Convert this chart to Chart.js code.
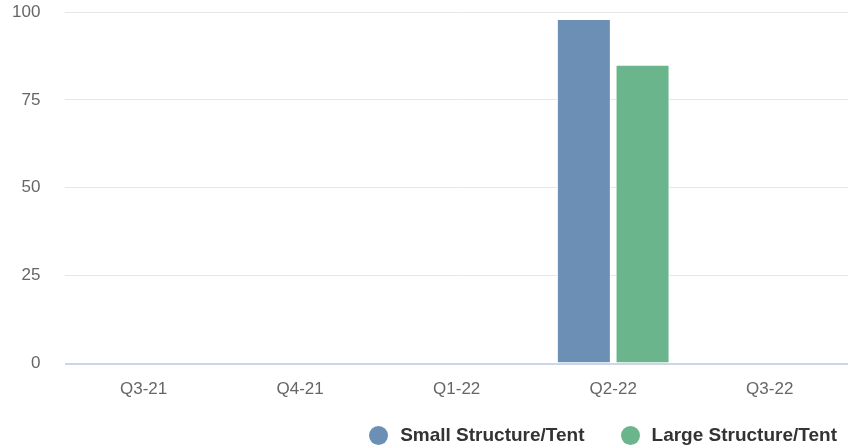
<!DOCTYPE html>
<html>
<head>
<meta charset="utf-8">
<script src="https://cdn.jsdelivr.net/npm/chart.js@4/dist/chart.umd.min.js"></script>
<style>
  html, body { margin: 0; padding: 0; background: #fff; }
  #wrap { width: 848px; height: 448px; position: relative; }
  #legend {
    position: absolute; right: 11px; top: 424px;
    display: flex; align-items: center; gap: 36px;
    font: bold 19px "Liberation Sans", Arial, Helvetica, sans-serif; color: #333;
  }
  #legend .item { display: flex; align-items: center; gap: 12px; }
  #legend .dot { width: 19px; height: 19px; border-radius: 50%; }
</style>
</head>
<body>
<div id="wrap">
  <canvas id="structureChart"></canvas>
  <div id="legend"></div>
</div>
<script>
// quarters and counts per structure type
const quarters = ['Q3-21', 'Q4-21', 'Q1-22', 'Q2-22', 'Q3-22'];
const smallStructure = [0, 0, 0, 98, 0];
const largeStructure = [0, 0, 0, 85, 0];
const yTicks = [0, 25, 50, 75, 100];

const FONT = '"Liberation Sans", Arial, Helvetica, sans-serif';

const ctx = document.getElementById('structureChart');
const chart = new Chart(ctx, {
    type: 'bar',
    data: {
        labels: quarters,
        datasets: [
            {
                label: 'Small Structure/Tent',
                data: smallStructure,
                backgroundColor: '#6b8fb5',
                borderColor: '#ffffff',
                borderWidth: 1,
                borderSkipped: 'bottom'
            },
            {
                label: 'Large Structure/Tent',
                data: largeStructure,
                backgroundColor: '#6bb58d',
                borderColor: '#ffffff',
                borderWidth: 1,
                borderSkipped: 'bottom'
            }
        ]
    },
    options: {
        responsive: true,
        maintainAspectRatio: false,
        animation: false,
        categoryPercentage: 0.75,
        barPercentage: 0.92,
        layout: { padding: { top: 12, right: 0, left: 12, bottom: 40 } },
        plugins: {
            tooltip: { enabled: false },
            legend: { display: false }
        },
        scales: {
            x: {
                grid: { display: false },
                border: { display: false },
                ticks: {
                    color: '#666666',
                    padding: 8,
                    font: { family: FONT, size: 17 }
                }
            },
            y: {
                min: 0,
                max: 100,
                afterBuildTicks: (axis) => {
                    axis.ticks = yTicks.map(v => ({ value: v }));
                },
                border: { display: false },
                // invisible tick marks give the label gap without padding the top
                grid: {
                    drawTicks: true,
                    tickLength: 25,
                    tickColor: 'transparent',
                    color: (c) => (c.tick && c.tick.value === 0) ? '#ccd6eb' : '#e6e6e6',
                    lineWidth: (c) => (c.tick && c.tick.value === 0) ? 2 : 1
                },
                ticks: {
                    color: '#666666',
                    padding: 0,
                    font: { family: FONT, size: 17 }
                }
            }
        }
    }
});

// legend built from the chart's own datasets
const legendEl = document.getElementById('legend');
chart.data.datasets.forEach(ds => {
    const item = document.createElement('div');
    item.className = 'item';
    const dot = document.createElement('span');
    dot.className = 'dot';
    dot.style.background = ds.backgroundColor;
    const txt = document.createElement('span');
    txt.textContent = ds.label;
    item.appendChild(dot);
    item.appendChild(txt);
    legendEl.appendChild(item);
});
</script>
</body>
</html>
